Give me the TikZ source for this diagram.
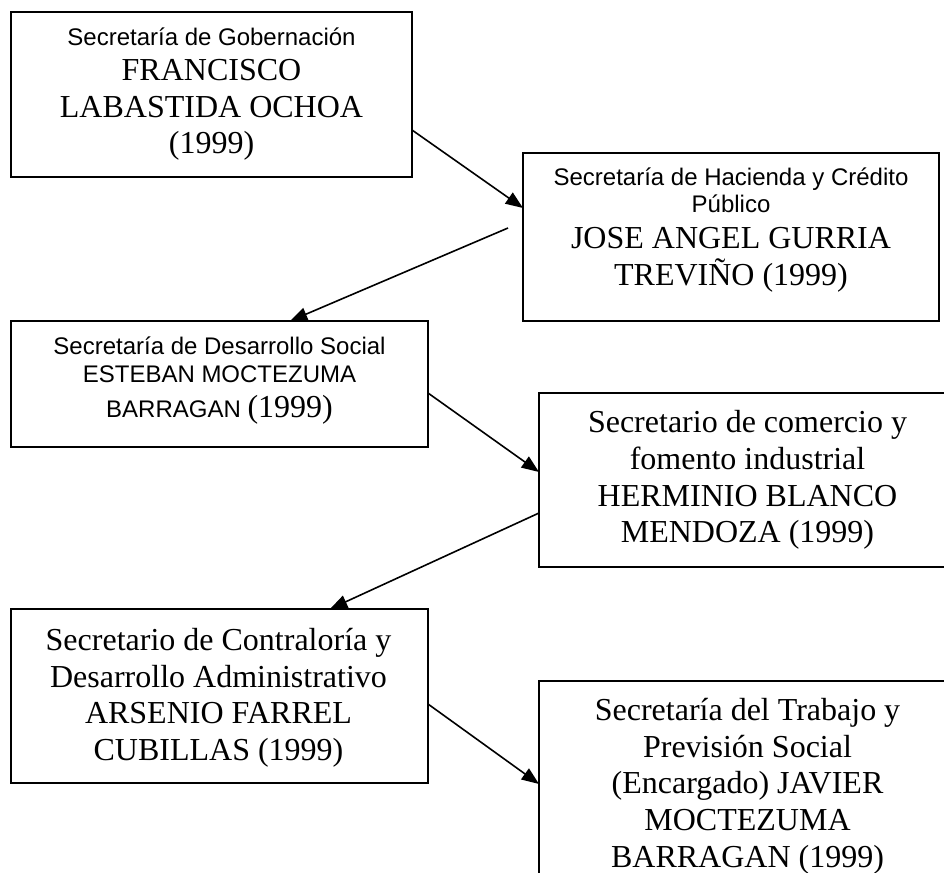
\documentclass[tikz,border=0pt]{standalone}
\usepackage{fontspec}
\setmainfont{Liberation Serif}
\newfontfamily\arialf{Liberation Sans}
\usetikzlibrary{arrows.meta,calc}
\begin{document}
\begin{tikzpicture}[x=0.75pt,y=-0.75pt,
  box/.style={draw, line width=1.5pt, rectangle, inner sep=0pt, outer sep=0pt, anchor=north west},
  ser/.style={anchor=base, inner sep=0pt, font=\fontsize{24}{28}\selectfont},
  san/.style={anchor=base, inner sep=0pt, font=\arialf\fontsize{18}{21}\selectfont},
  conn/.style={line width=1.2pt, -{Triangle[length=13pt,width=10pt]}}]
\clip (0,0) rectangle (944,872);
\useasboundingbox (0,0) rectangle (944,872);

% boxes
\node[box, minimum width=300.75pt, minimum height=123.75pt] (b1) at (11,12) {};
\node[box, minimum width=312pt, minimum height=126pt] (b2) at (523,153) {};
\node[box, minimum width=312.75pt, minimum height=94.5pt] (b3) at (11,321) {};
\node[box, minimum width=312.75pt, minimum height=130.5pt] (b4) at (539,393) {};
\node[box, minimum width=312.75pt, minimum height=130.5pt] (b5) at (11,609) {};
\node[box, minimum width=312.75pt, minimum height=172pt] (b6) at (539,681) {};

% texts box 1
\node[san] (t1a) at (211.5,45) {Secretaría de Gobernación};
\node[ser] (t1b) at (211.5,80) {FRANCISCO};
\node[ser] (t1c) at (211.5,117) {LABASTIDA OCHOA};
\node[ser] (t1d) at (211.5,153) {(1999)};

% texts box 2
\node[san] (t2a) at (731,185) {Secretaría de Hacienda y Crédito};
\node[san] (t2b) at (731,212) {Público};
\node[ser] (t2c) at (731,248) {JOSE ANGEL GURRIA};
\node[ser] (t2d) at (731,285) {TREVIÑO (1999)};

% texts box 3
\node[san] (t3a) at (219.5,354) {Secretaría de Desarrollo Social};
\node[san] (t3b) at (219.5,382) {ESTEBAN MOCTEZUMA};
\node[san] (t3c) at (219.5,417) {BARRAGAN {\rmfamily\fontsize{24}{28}\selectfont(1999)}};

% texts box 4
\node[ser] (t4a) at (747.5,432) {Secretario de comercio y};
\node[ser] (t4b) at (747.5,469) {fomento industrial};
\node[ser] (t4c) at (747.5,506) {HERMINIO BLANCO};
\node[ser] (t4d) at (747.5,542) {MENDOZA (1999)};

% texts box 5
\node[ser] (t5a) at (218.5,650) {Secretario de Contraloría y};
\node[ser] (t5b) at (218.5,687) {Desarrollo Administrativo};
\node[ser] (t5c) at (218.5,723) {ARSENIO FARREL};
\node[ser] (t5d) at (218.5,760) {CUBILLAS (1999)};

% texts box 6
\node[ser] (t6a) at (747.5,720) {Secretaría del Trabajo y};
\node[ser] (t6b) at (747.5,757) {Previsión Social};
\node[ser] (t6c) at (747.5,793) {(Encargado) JAVIER};
\node[ser] (t6d) at (747.5,830) {MOCTEZUMA};
\node[ser] (t6e) at (747.5,867) {BARRAGAN (1999)};

% connectors
\draw[conn] ($(b1.north east)+(0,118)$) -- ($(b2.north west)+(0,55)$);
\draw[conn] ($(b2.north west)+(-15,75)$) -- ($(b3.north west)+(279,0)$);
\draw[conn] ($(b3.north east)+(0,72)$) -- ($(b4.north west)+(0,79)$);
\draw[conn] ($(b4.north west)+(0,120)$) -- ($(b5.north west)+(319,0)$);
\draw[conn] ($(b5.north east)+(0,95)$) -- ($(b6.north west)+(0,103)$);
\end{tikzpicture}
\end{document}
